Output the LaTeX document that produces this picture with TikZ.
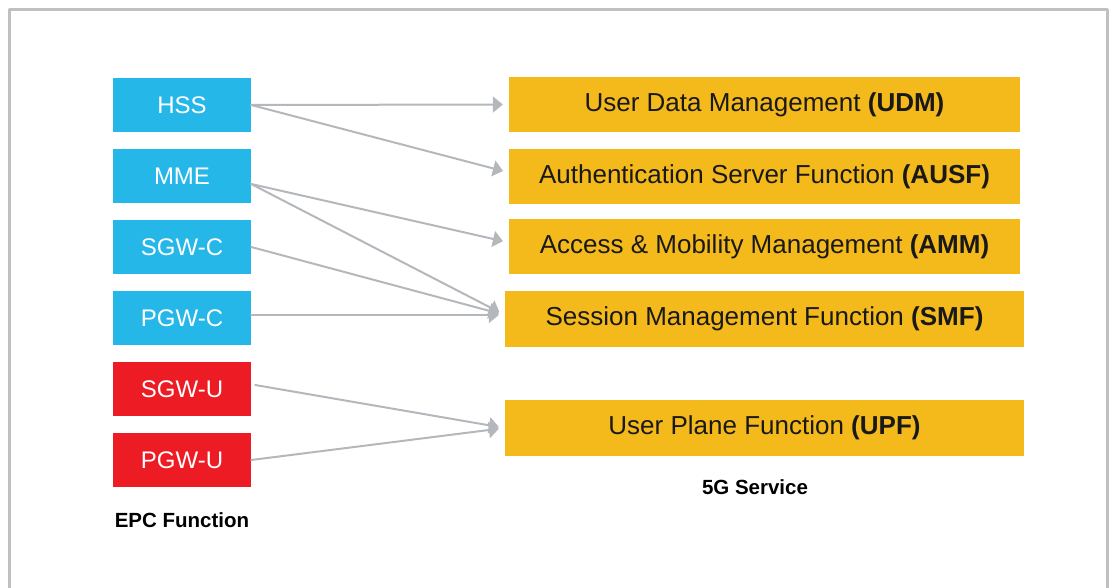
\documentclass[tikz,border=0pt]{standalone}
\usepackage{fontspec}
\setmainfont{Liberation Sans}
\usetikzlibrary{arrows.meta}
\definecolor{epcblue}{RGB}{38,183,233}
\definecolor{epcred}{RGB}{237,28,36}
\definecolor{svcgold}{RGB}{244,185,26}
\definecolor{linkgray}{RGB}{180,183,187}
\definecolor{framegray}{RGB}{192,192,192}
\tikzset{
  epcbox/.style={minimum width=138pt,minimum height=54pt,inner sep=0pt,text=white,font=\fontsize{24}{24}\selectfont},
  svcbox/.style={fill=svcgold,minimum height=55pt,inner sep=0pt,text=black!90,font=\fontsize{26}{26}\selectfont},
  link/.style={->,draw=linkgray,line width=2pt,shorten >=6pt},
  caption/.style={font=\bfseries\fontsize{20.5}{20.5}\selectfont,text=black}
}
\begin{document}
\begin{tikzpicture}[line cap=round,line join=round,>={Triangle[length=10pt,width=16pt]},x=1pt,y=-1pt]
\clip(0, 0)rectangle(1119, 588);

\draw[framegray,line width=3pt] (9.5, 620) -- (9.5, 9.5) -- (1107, 9.5) -- (1107, 620);

\node[epcbox,fill=epcblue] (hss) at (182, 105) {HSS};
\node[epcbox,fill=epcblue] (mme) at (182, 176) {MME};
\node[epcbox,fill=epcblue] (sgwc) at (182, 247) {SGW-C};
\node[epcbox,fill=epcblue] (pgwc) at (182, 318) {PGW-C};
\node[epcbox,fill=epcred] (sgwu) at (182, 389) {SGW-U};
\node[epcbox,fill=epcred] (pgwu) at (182, 460) {PGW-U};
\node[caption] (epclabel) at (182, 520) {EPC Function};

\node[svcbox,minimum width=511pt] (udm) at (764.5, 104.5) {User Data Management \textbf{(UDM)}};
\node[svcbox,minimum width=511pt] (ausf) at (764.5, 176.5) {Authentication Server Function \textbf{(AUSF)}};
\node[svcbox,minimum width=511pt] (amm) at (764.5, 246.5) {Access \& Mobility Management \textbf{(AMM)}};
\node[svcbox,minimum width=519pt,minimum height=56pt] (smf) at (764.5, 319) {Session Management Function \textbf{(SMF)}};
\node[svcbox,minimum width=519pt,minimum height=56pt] (upf) at (764.5, 428) {User Plane Function \textbf{(UPF)}};
\node[caption] (svclabel) at (755, 487) {5G Service};

\draw[link] (hss.east) -- (udm.west);
\draw[link] (hss.east) -- ([yshift=4pt]ausf.west);
\draw[link] ([yshift=-8pt]mme.east) -- ([yshift=4pt]amm.west);
\draw[link] ([yshift=-8pt]mme.east) -- ([yshift=4pt]smf.west);
\draw[link] (sgwc.east) -- ([yshift=4pt]smf.west);
\draw[link] ([yshift=3pt]pgwc.east) -- ([yshift=4pt]smf.west);
\draw[link] ([xshift=4pt,yshift=4pt]sgwu.east) -- (upf.west);
\draw[link] (pgwu.east) -- (upf.west);

\end{tikzpicture}
\end{document}
